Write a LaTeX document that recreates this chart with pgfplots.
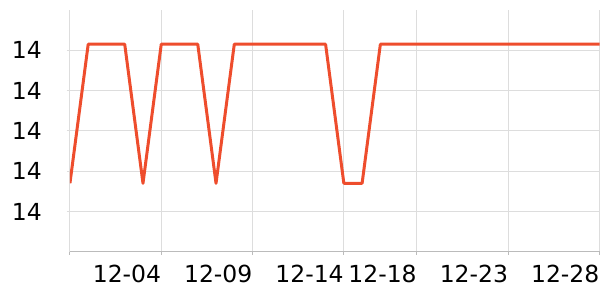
\documentclass[border=0pt]{standalone}
\usepackage{pgfplots}
\pgfplotsset{compat=1.18}
\usepackage{fontspec}
\setmainfont{DejaVu Sans}
\definecolor{lineor}{HTML}{EE4D2D}
\definecolor{gridc}{HTML}{DDDDDD}
\definecolor{axc}{HTML}{BBBBBB}
\begin{document}
\fontsize{24bp}{28bp}\selectfont
\begin{tikzpicture}
\begin{axis}[
  scale only axis, width=530bp, height=242bp,
  xmin=0, xmax=29, ymin=13.4, ymax=14.6,
  xtick={0,5,10,15,19,24,29},
  xticklabels={,12-04,12-09,12-14,12-18,12-23,12-28},
  ytick={13.6,13.8,14.0,14.2,14.4},
  /pgf/number format/assume math mode=true,
  yticklabel style={/pgf/number format/fixed, /pgf/number format/precision=0, inner sep=0pt, xshift=-25bp},
  xticklabel style={anchor=north east, inner sep=0pt, yshift=-10bp},
  axis x line*=bottom, axis y line*=left,
  x axis line style={draw=axc, line width=1bp},
  y axis line style={draw=gridc, line width=1bp},
  tick align=outside, major tick length=3bp,
  xtick style={draw=axc, line width=1bp},
  ytick style={draw=gridc, line width=1bp},
  xmajorgrids, ymajorgrids,
  major grid style={draw=gridc, line width=1bp},
  tick label style={font=\fontsize{23.5bp}{28bp}\selectfont},
]
\addplot[color=lineor, line width=3bp, mark=none, line join=round] coordinates {
(0,13.74) (1,14.43) (2,14.43) (3,14.43) (4,13.74) (5,14.43) (6,14.43) (7,14.43)
(8,13.74) (9,14.43) (10,14.43) (11,14.43) (12,14.43) (13,14.43) (14,14.43)
(15,13.74) (16,13.74) (17,14.43) (18,14.43) (19,14.43) (20,14.43) (21,14.43)
(22,14.43) (23,14.43) (24,14.43) (25,14.43) (26,14.43) (27,14.43) (28,14.43) (29,14.43)
};
\end{axis}
\path ([xshift=-70bp,yshift=-48bp]current axis.south west) rectangle ([yshift=10bp]current axis.north east);
\end{tikzpicture}
\end{document}
